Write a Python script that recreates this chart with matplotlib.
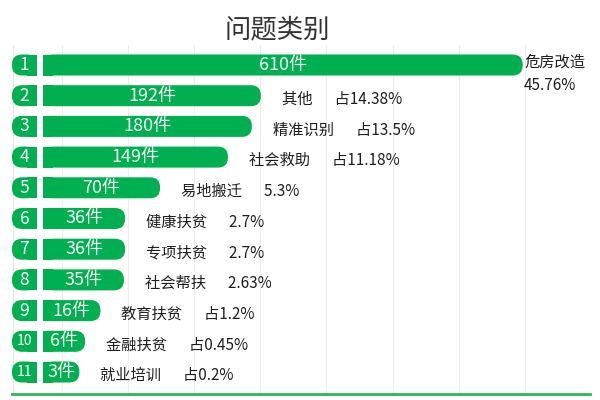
import numpy as np
import matplotlib
matplotlib.use("Agg")
import matplotlib.pyplot as plt
from matplotlib.patches import FancyBboxPatch, Rectangle

# ---------------- data ----------------
title = "问题类别"
ranks = [1, 2, 3, 4, 5, 6, 7, 8, 9, 10, 11]
categories = ["危房改造", "其他", "精准识别", "社会救助", "易地搬迁", "健康扶贫",
              "专项扶贫", "社会帮扶", "教育扶贫", "金融扶贫", "就业培训"]
counts = [610, 192, 180, 149, 70, 36, 36, 35, 16, 6, 3]
share_labels = ["45.76%", "占14.38%", "占13.5%", "占11.18%", "5.3%", "2.7%",
                "2.7%", "2.63%", "占1.2%", "占0.45%", "占0.2%"]

# ---------------- style ----------------
plt.rcParams['font.family'] = ['Noto Sans CJK SC', 'DejaVu Sans']
NARROW = ['Liberation Sans Narrow', 'Noto Sans CJK SC', 'DejaVu Sans']
GREEN = "#00B050"
LINE_GREEN = "#2DB757"
TEXT = "#1e1e1e"

W, H = 600, 400
fig = plt.figure(figsize=(6, 4), dpi=100)
fig.patch.set_facecolor("white")

ax_left, ax_right, ax_top, ax_bottom = 12, 590, 45, 394
ax = fig.add_axes([ax_left / W, 1 - ax_bottom / H,
                   (ax_right - ax_left) / W, (ax_bottom - ax_top) / H])
width_px = ax_right - ax_left
ax.set_xlim(0, width_px)

row_px = 30.7          # pixel distance between rows
first_row_px = 65      # centre of first row (figure px)
n = len(counts)
ypos = np.arange(n)
ax.set_ylim((n - 1) + (ax_bottom - (first_row_px + (n - 1) * row_px)) / row_px,
            -(first_row_px - ax_top) / row_px)

# bar length: non-linear (infographic style) mapping of the counts
vals = np.asarray(counts, dtype=float)
bar_len = 28 + 3.68 * vals ** 0.75

pill_w = 25
bar_x0 = 31
bar_h_px = 21
h = bar_h_px / row_px
r = 10
aspect = 1 / row_px

for i, (rk, c, cat, sh, L) in enumerate(zip(ranks, counts, categories, share_labels, bar_len)):
    y = ypos[i]
    # number pill (left rounded, right square)
    ax.add_patch(FancyBboxPatch((0, y - h / 2), pill_w, h,
                                boxstyle=f"round,pad=0,rounding_size={r}",
                                mutation_aspect=aspect, fc=GREEN, ec="none", zorder=3))
    ax.add_patch(Rectangle((pill_w - r, y - h / 2), r, h, fc=GREEN, ec="none", zorder=3))
    ax.text(pill_w / 2, y, str(rk), color="white", ha="center", va="center",
            fontsize=12.5 if rk < 10 else 10, family=NARROW, zorder=5)
    # bar (left square, right rounded)
    ax.add_patch(FancyBboxPatch((bar_x0, y - h / 2), L, h,
                                boxstyle=f"round,pad=0,rounding_size={r}",
                                mutation_aspect=aspect, fc=GREEN, ec="none", zorder=3))
    ax.add_patch(Rectangle((bar_x0, y - h / 2), r, h, fc=GREEN, ec="none", zorder=3))
    ax.text(bar_x0 + L / 2, y, f"{c}件", color="#f4fff6", ha="center", va="center",
            fontsize=13, family=NARROW, zorder=5)
    end = bar_x0 + L
    if i == 0:
        ax.annotate(cat, (end, y), xytext=(1, 2), textcoords="offset points",
                    ha="left", va="center", fontsize=11, color=TEXT)
        ax.annotate(sh, (end, y), xytext=(1, -14.5), textcoords="offset points",
                    ha="left", va="center", fontsize=11, color=TEXT)
    else:
        ax.annotate(f"{cat}\u3000  {sh}", (end, y), xytext=(15, -2.5),
                    textcoords="offset points", ha="left", va="center",
                    fontsize=11, color=TEXT)

# faint vertical gridlines
for k in range(9):
    ax.axvline(50 + k * 66.1, color="#eeeeee", lw=0.8, zorder=0)
ax.axvline(0.5, color="#e6e6e6", lw=0.8, zorder=0)

for s in ["top", "right", "left"]:
    ax.spines[s].set_visible(False)
ax.spines["bottom"].set_color(LINE_GREEN)
ax.spines["bottom"].set_linewidth(2)
ax.set_xticks([])
ax.set_yticks([])
ax.set_facecolor("white")

fig.text(277 / W, 1 - 30 / H, title, fontsize=19, ha="center", va="center", color="#333333")

fig.savefig("out.png", dpi=100)
